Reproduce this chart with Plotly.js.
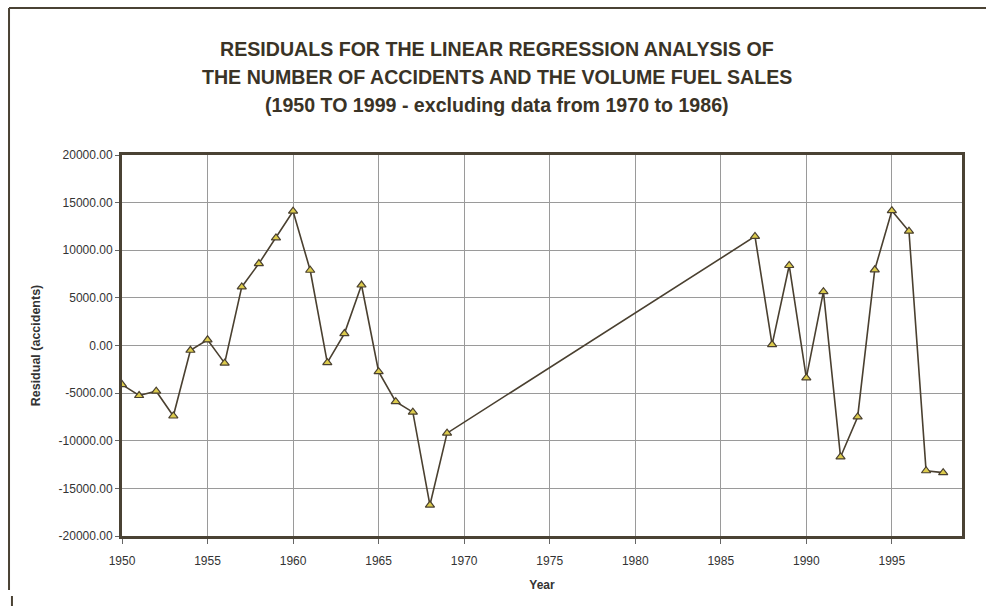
<!DOCTYPE html>
<html>
<head>
<meta charset="utf-8">
<script src="https://cdn.plot.ly/plotly-3.0.1.min.js"></script>
<style>html,body{margin:0;padding:0;background:#fff;}#chart{width:986px;height:606px;}</style>
</head>
<body>
<div id="chart"></div>
<script>
const years = [1950,1951,1952,1953,1954,1955,1956,1957,1958,1959,1960,1961,1962,1963,1964,1965,1966,1967,1968,1969,
               1987,1988,1989,1990,1991,1992,1993,1994,1995,1996,1997,1998];
const residuals = [-4100,-5250,-4800,-7400,-500,600,-1850,6150,8600,11300,14100,7900,-1800,1250,6350,-2750,-5900,-7000,-16750,-9200,
                   11450,100,8400,-3400,5650,-11700,-7500,7950,14150,12000,-13150,-13350];
const xTicks = [1950,1955,1960,1965,1970,1975,1980,1985,1990,1995];
const yTicks = [-20000,-15000,-10000,-5000,0,5000,10000,15000,20000];
const titleLines = [
  'RESIDUALS FOR THE LINEAR REGRESSION ANALYSIS OF',
  'THE NUMBER OF ACCIDENTS AND THE VOLUME FUEL SALES',
  '(1950 TO 1999 - excluding data from 1970 to 1986)'
];

const frame = '#4a4234';
const trace = {
  x: years, y: residuals, type: 'scatter', mode: 'lines+markers',
  line: {color: '#4a4030', width: 1.6},
  marker: {symbol: 'triangle-up', size: 8, color: '#dccb4c', line: {color: '#4a4030', width: 1.2}},
  hoverinfo: 'x+y'
};
const titleY = [1.2782, 1.2047, 1.1313];
const annotations = titleLines.map((t, i) => ({
  text: t, xref: 'paper', yref: 'paper', x: 0.4464, y: titleY[i], xanchor: 'center', yanchor: 'middle',
  showarrow: false, font: {family: 'Liberation Sans, Arial, sans-serif', size: 19.6, color: '#3a3326', weight: 'bold'}
}));
const layout = {
  width: 986, height: 606,
  margin: {l: 122, r: 24, t: 155, b: 70},
  paper_bgcolor: '#ffffff', plot_bgcolor: '#ffffff',
  font: {family: 'Liberation Sans, Arial, sans-serif', color: '#333'},
  showlegend: false,
  annotations: annotations,
  xaxis: {
    range: [1950, 1999.1], tickmode: 'array', tickvals: xTicks, ticktext: xTicks.map(String),
    showgrid: true, gridcolor: '#9a9a9a', gridwidth: 1,
    showline: true, linecolor: frame, linewidth: 3, mirror: true,
    ticks: 'outside', ticklen: 5, tickcolor: '#666', tickwidth: 1, ticklabelstandoff: 7,
    tickfont: {size: 12, color: '#333'}, zeroline: false,
    title: {text: 'Year', font: {size: 12, color: '#333', weight: 'bold'}, standoff: 14}
  },
  yaxis: {
    range: [-20000, 20000], tickmode: 'array', tickvals: yTicks, ticktext: yTicks.map(v => v.toFixed(2)),
    showgrid: true, gridcolor: '#9a9a9a', gridwidth: 1,
    showline: true, linecolor: frame, linewidth: 3, mirror: true,
    ticks: 'outside', ticklen: 4, tickcolor: '#666', tickwidth: 1,
    tickfont: {size: 12, color: '#333'}, zeroline: false,
    title: {text: 'Residual (accidents)', font: {size: 12.5, color: '#333', weight: 'bold'}, standoff: 16}
  },
  shapes: [
    {type: 'line', xref: 'paper', yref: 'paper', x0: -0.1345, x1: 1.03, y0: 1.3858, y1: 1.3858, line: {color: '#4a4234', width: 2}},
    {type: 'line', xref: 'paper', yref: 'paper', x0: -0.1345, x1: -0.1345, y0: 1.3858, y1: -0.1417, line: {color: '#4a4234', width: 2}},
    {type: 'line', xref: 'paper', yref: 'paper', x0: -0.1310, x1: -0.1310, y0: -0.1575, y1: -0.19, line: {color: '#4a4234', width: 2}}
  ]
};
Plotly.newPlot('chart', [trace], layout, {displayModeBar: false, staticPlot: true});
</script>
</body>
</html>
